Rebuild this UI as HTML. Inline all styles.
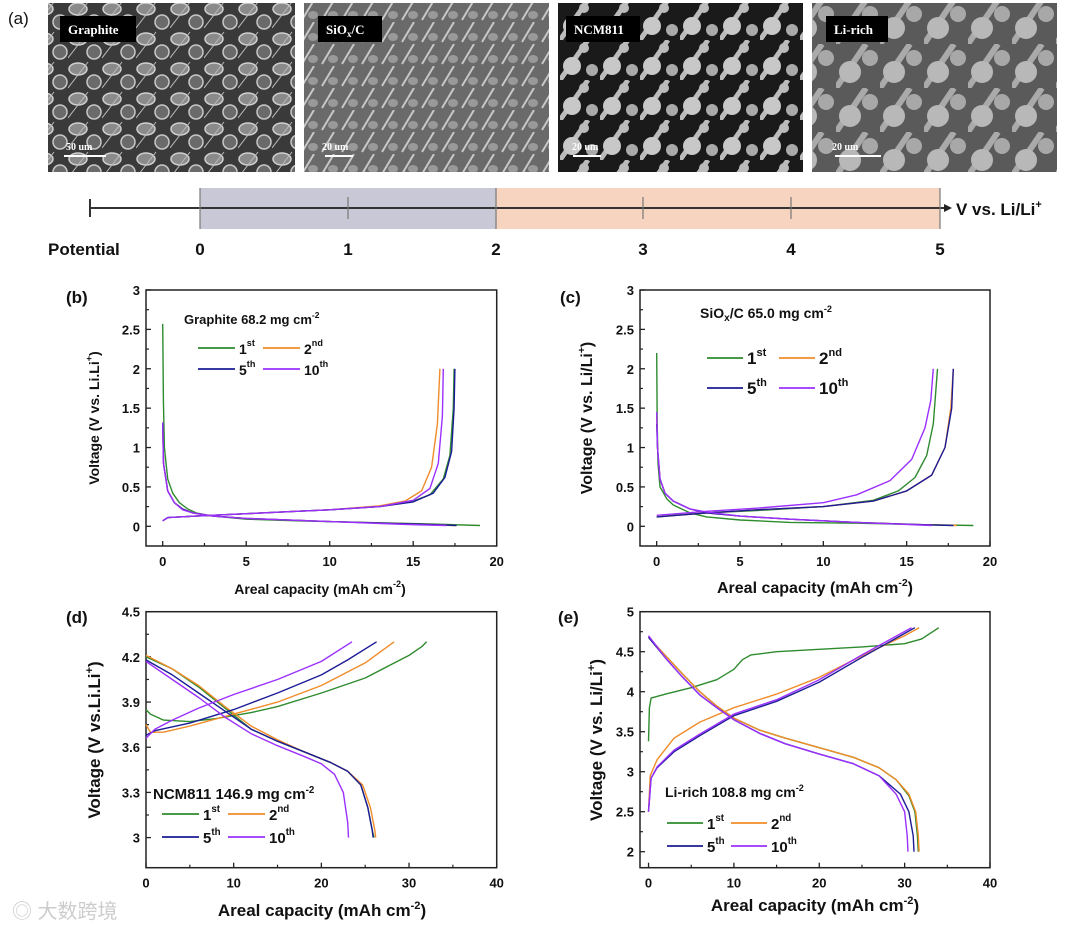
<!DOCTYPE html>
<html><head><meta charset="utf-8">
<style>
html,body{margin:0;padding:0;background:#fff;}
svg{display:block;font-family:"Liberation Sans","Noto Sans CJK SC",sans-serif;}
.t{font-weight:bold;fill:#111;}
</style></head>
<body>
<svg id="fig" width="1080" height="929" viewBox="0 0 1080 929" xmlns="http://www.w3.org/2000/svg">
<defs>
 <pattern id="pg" width="34" height="30" patternUnits="userSpaceOnUse">
  <rect width="34" height="30" fill="#3a3a3a"/>
  <ellipse cx="10" cy="9" rx="9" ry="6" fill="#8a8a8a" stroke="#d0d0d0" stroke-width="1.5"/>
  <ellipse cx="26" cy="22" rx="7" ry="7" fill="#6a6a6a" stroke="#c8c8c8" stroke-width="1.5"/>
  <path d="M0 28 L20 2" stroke="#bbb" stroke-width="1"/>
 </pattern>
 <pattern id="ps" width="20" height="22" patternUnits="userSpaceOnUse">
  <rect width="20" height="22" fill="#6a6a6a"/>
  <path d="M2 20 L14 0" stroke="#c8c8c8" stroke-width="2"/>
  <ellipse cx="13" cy="15" rx="5" ry="4" fill="#999"/>
 </pattern>
 <pattern id="pn" width="40" height="40" patternUnits="userSpaceOnUse">
  <rect width="40" height="40" fill="#1a1a1a"/>
  <path d="M0 40 L28 0" stroke="#bbb" stroke-width="5"/>
  <circle cx="12" cy="26" r="9" fill="#c8c8c8"/>
  <circle cx="32" cy="30" r="6" fill="#aaa"/>
  <circle cx="24" cy="8" r="5" fill="#bbb"/>
 </pattern>
 <pattern id="pl" width="44" height="44" patternUnits="userSpaceOnUse">
  <rect width="44" height="44" fill="#5a5a5a"/>
  <path d="M0 44 L30 0" stroke="#aaa" stroke-width="6"/>
  <circle cx="14" cy="28" r="11" fill="#b8b8b8"/>
  <circle cx="34" cy="14" r="8" fill="#a8a8a8"/>
 </pattern>
</defs>

<text x="8" y="24" font-size="17" class="t" style="font-weight:normal">(a)</text>

<g>
 <rect x="48" y="3" width="247" height="169" fill="url(#pg)"/>
 <rect x="60" y="16" width="76" height="26" fill="#000"/>
 <text x="68" y="34" font-size="13" fill="#fff" font-weight="bold" font-family="Liberation Serif,serif">Graphite</text>
 <text x="66" y="150" font-size="10" fill="#fff" font-weight="bold" font-family="Liberation Serif,serif">50 um</text>
 <rect x="64" y="155" width="42" height="2" fill="#fff"/>
</g>
<g>
 <rect x="304" y="3" width="245" height="169" fill="url(#ps)"/>
 <rect x="318" y="16" width="64" height="26" fill="#000"/>
 <text x="326" y="34" font-size="13" fill="#fff" font-weight="bold" font-family="Liberation Serif,serif">SiO<tspan font-size="9" dy="3">x</tspan><tspan dy="-3">/C</tspan></text>
 <text x="322" y="150" font-size="10" fill="#fff" font-weight="bold" font-family="Liberation Serif,serif">20 um</text>
 <rect x="325" y="155" width="28" height="2" fill="#fff"/>
</g>
<g>
 <rect x="558" y="3" width="245" height="169" fill="url(#pn)"/>
 <rect x="566" y="16" width="74" height="26" fill="#000"/>
 <text x="574" y="34" font-size="13" fill="#fff" font-weight="bold" font-family="Liberation Serif,serif">NCM811</text>
 <text x="572" y="150" font-size="10" fill="#fff" font-weight="bold" font-family="Liberation Serif,serif">20 um</text>
 <rect x="573" y="155" width="28" height="2" fill="#fff"/>
</g>
<g>
 <rect x="812" y="3" width="245" height="169" fill="url(#pl)"/>
 <rect x="826" y="16" width="62" height="26" fill="#000"/>
 <text x="834" y="34" font-size="13" fill="#fff" font-weight="bold" font-family="Liberation Serif,serif">Li-rich</text>
 <text x="832" y="150" font-size="10" fill="#fff" font-weight="bold" font-family="Liberation Serif,serif">20 um</text>
 <rect x="835" y="155" width="46" height="2" fill="#fff"/>
</g>

<g>
 <rect x="200" y="188" width="296" height="41" fill="#c8c8d6"/>
 <rect x="496" y="188" width="444" height="41" fill="#f7d4bf"/>
 <line x1="90" y1="208" x2="945" y2="208" stroke="#333" stroke-width="2"/>
 <line x1="90" y1="199" x2="90" y2="217" stroke="#333" stroke-width="2"/>
 <polygon points="952,208 944,204 944,212" fill="#222"/>
 <g stroke="#777" stroke-width="1.2">
  <line x1="200" y1="188" x2="200" y2="229"/><line x1="348" y1="197" x2="348" y2="219"/>
  <line x1="496" y1="188" x2="496" y2="229"/><line x1="643" y1="197" x2="643" y2="219"/>
  <line x1="791" y1="197" x2="791" y2="219"/><line x1="940" y1="188" x2="940" y2="229"/>
 </g>
 <text x="956" y="215" font-size="17" class="t">V vs. Li/Li<tspan font-size="11" dy="-7">+</tspan></text>
 <text x="48" y="255" font-size="17" class="t">Potential</text>
 <g font-size="17" class="t" text-anchor="middle">
  <text x="200" y="255">0</text><text x="348" y="255">1</text><text x="496" y="255">2</text>
  <text x="643" y="255">3</text><text x="791" y="255">4</text><text x="940" y="255">5</text>
 </g>
</g>

<text x="12" y="918" font-size="20" fill="#ccc">◎ 大数跨境</text>

<g id="charts"></g>
</svg>
<script>
// ---- data (x = areal capacity mAh cm-2, y = voltage V) ----
const cycles = ["1st","2nd","5th","10th"];
const colors = ["#2e8b2e","#f08c2a","#1c1c96","#9b30ff"];

// Graphite
const gr1Dis = [[0,2.57],[0.04,1.6],[0.1,1.0],[0.3,0.6],[0.6,0.42],[1,0.3],[1.5,0.22],[2,0.17],[3,0.13],[5,0.09],[8,0.07],[12,0.05],[16,0.03],[19,0.01]];
const gr1Chg = [[0,0.07],[0.3,0.11],[2,0.13],[5,0.16],[8,0.19],[10,0.21],[13,0.25],[15,0.32],[16,0.4],[16.8,0.6],[17.2,0.9],[17.4,1.5],[17.45,2]];
const gr2Dis = [[0,1.3],[0.05,0.8],[0.3,0.45],[0.7,0.3],[1.2,0.22],[1.8,0.17],[3,0.13],[5,0.1],[10,0.06],[15,0.03],[17.5,0.01]];
const gr2Chg = [[0,0.07],[0.3,0.11],[2,0.13],[5,0.16],[8,0.19],[10,0.21],[13,0.26],[14.5,0.32],[15.5,0.45],[16.1,0.75],[16.45,1.3],[16.6,2]];
const gr5Dis = [[0,1.3],[0.05,0.8],[0.3,0.45],[0.7,0.3],[1.2,0.22],[1.8,0.17],[3,0.13],[5,0.1],[10,0.06],[15,0.03],[17.6,0.01]];
const gr5Chg = [[0,0.07],[0.3,0.11],[2,0.13],[5,0.16],[8,0.19],[10,0.21],[13,0.25],[15,0.31],[16.2,0.42],[16.9,0.62],[17.3,0.95],[17.45,1.5],[17.5,2]];
const gr10Dis = [[0,1.32],[0.05,0.8],[0.3,0.45],[0.7,0.3],[1.2,0.21],[1.8,0.17],[3,0.13],[5,0.1],[10,0.06],[15,0.02],[17,0.01]];
const gr10Chg = [[0,0.07],[0.3,0.11],[2,0.13],[5,0.16],[8,0.19],[10,0.21],[13,0.25],[15,0.33],[16,0.48],[16.5,0.8],[16.75,1.4],[16.8,2]];

// SiOx/C
const si1Dis = [[0,2.2],[0.03,1.3],[0.08,0.8],[0.2,0.5],[0.6,0.35],[1,0.27],[2,0.17],[3,0.12],[5,0.08],[8,0.05],[12,0.04],[16,0.02],[19,0.01]];
const si1Chg = [[0,0.12],[1,0.14],[3,0.17],[6,0.2],[10,0.25],[13,0.33],[14.5,0.45],[15.5,0.62],[16.2,0.9],[16.6,1.3],[16.85,2]];
const si2Dis = [[0,1.4],[0.05,1.0],[0.2,0.6],[0.5,0.42],[1,0.32],[2,0.22],[3,0.17],[5,0.13],[8,0.09],[12,0.05],[16,0.02],[18,0.01]];
const si2Chg = [[0,0.12],[3,0.17],[6,0.21],[10,0.25],[13,0.32],[15,0.45],[16.5,0.65],[17.3,1.0],[17.65,1.5],[17.8,2]];
const si5Dis = [[0,1.3],[0.05,1.0],[0.2,0.6],[0.5,0.42],[1,0.32],[2,0.22],[3,0.17],[5,0.13],[8,0.09],[12,0.05],[16,0.02],[17.8,0.01]];
const si5Chg = [[0,0.12],[3,0.17],[6,0.21],[10,0.25],[13,0.32],[15,0.45],[16.5,0.65],[17.3,1.0],[17.7,1.5],[17.8,2]];
const si10Dis = [[0,1.45],[0.05,1.0],[0.2,0.6],[0.5,0.42],[1,0.32],[2,0.22],[3,0.18],[5,0.13],[8,0.09],[12,0.05],[16.5,0.01]];
const si10Chg = [[0,0.14],[3,0.19],[6,0.23],[10,0.3],[12,0.4],[14,0.58],[15.3,0.85],[16.1,1.25],[16.45,1.6],[16.6,2]];

// NCM811
const nc1Chg = [[0,3.85],[0.5,3.82],[2,3.78],[5,3.77],[8,3.79],[10,3.81],[12,3.83],[15,3.87],[20,3.96],[25,4.06],[28,4.15],[30,4.21],[31.5,4.27],[32,4.3]];
const nc1Dis = [[0,4.2],[3,4.12],[6,4.0],[9,3.86],[12,3.72],[15,3.64],[18,3.57],[21,3.5],[23,3.44],[24.5,3.35],[25.3,3.2],[25.8,3.05],[26,3]];
const nc2Chg = [[0,3.75],[0.5,3.7],[2,3.7],[5,3.74],[10,3.82],[15,3.9],[20,4.01],[25,4.16],[28.3,4.3]];
const nc2Dis = [[0,4.21],[3,4.12],[6,4.01],[9,3.87],[12,3.74],[15,3.65],[18,3.57],[21,3.5],[23,3.44],[24.7,3.35],[25.6,3.2],[26.1,3.05],[26.2,3]];
const nc5Chg = [[0,3.68],[1,3.71],[5,3.76],[10,3.85],[15,3.96],[20,4.08],[23,4.18],[26.3,4.3]];
const nc5Dis = [[0,4.18],[3,4.08],[6,3.96],[9,3.84],[12,3.72],[15,3.64],[18,3.57],[21,3.5],[23,3.44],[24.5,3.35],[25.3,3.2],[25.8,3.05],[25.9,3]];
const nc10Chg = [[0,3.66],[1,3.72],[3,3.78],[6,3.86],[10,3.95],[15,4.05],[20,4.17],[23.5,4.3]];
const nc10Dis = [[0,4.17],[3,4.05],[6,3.93],[9,3.8],[12,3.69],[15,3.61],[18,3.54],[20,3.49],[21.5,3.42],[22.5,3.3],[23,3.1],[23.1,3]];

// Li-rich
const lr1Chg = [[0,3.38],[0.1,3.8],[0.3,3.92],[2,3.97],[5,4.05],[8,4.15],[10,4.28],[11,4.4],[12,4.46],[15,4.5],[20,4.53],[25,4.56],[30,4.6],[32,4.66],[34,4.8]];
const lr1Dis = [[0,4.68],[2,4.45],[4,4.22],[6,4.0],[8,3.82],[10,3.67],[13,3.52],[16,3.42],[20,3.3],[24,3.18],[27,3.05],[29,2.9],[30.5,2.7],[31.2,2.5],[31.5,2.2],[31.6,2]];
const lr2Chg = [[0,2.5],[0.2,2.95],[1,3.15],[3,3.42],[6,3.62],[10,3.8],[15,3.97],[20,4.18],[25,4.45],[30,4.7],[31.7,4.8]];
const lr2Dis = [[0,4.68],[2,4.45],[4,4.22],[6,4.0],[8,3.82],[10,3.67],[13,3.52],[16,3.42],[20,3.3],[24,3.18],[27,3.05],[29,2.9],[30.5,2.72],[31.3,2.5],[31.6,2.2],[31.7,2]];
const lr5Chg = [[0,2.5],[0.3,2.92],[1,3.05],[3,3.25],[6,3.45],[10,3.7],[15,3.88],[20,4.12],[25,4.43],[31.2,4.8]];
const lr5Dis = [[0,4.68],[2,4.42],[4,4.18],[6,3.96],[8,3.8],[10,3.65],[13,3.48],[16,3.35],[20,3.22],[24,3.1],[27,2.95],[29.5,2.72],[30.5,2.5],[31,2.2],[31.1,2]];
const lr10Chg = [[0,2.5],[0.3,2.92],[1,3.06],[3,3.27],[6,3.47],[10,3.72],[15,3.9],[20,4.15],[25,4.46],[30.8,4.8]];
const lr10Dis = [[0,4.7],[2,4.42],[4,4.18],[6,3.96],[8,3.8],[10,3.65],[13,3.48],[16,3.35],[20,3.22],[24,3.1],[27,2.95],[29,2.72],[30,2.5],[30.3,2.2],[30.4,2]];

// axis ticks
const xTicksAnode = [0,5,10,15,20];
const yTicksAnode = [0,0.5,1,1.5,2,2.5,3];
const yLabelsAnode = ["0","0.5","1","1.5","2","2.5","3"];
const xTicksCathode = [0,10,20,30,40];
const yTicksNcm = [3,3.3,3.6,3.9,4.2,4.5];
const yLabelsNcm = ["3","3.3","3.6","3.9","4.2","4.5"];
const yTicksLr = [2,2.5,3,3.5,4,4.5,5];
const yLabelsLr = ["2","2.5","3","3.5","4","4.5","5"];

const NS = "http://www.w3.org/2000/svg";
const root = document.getElementById("charts");
function mk(tag, attrs, parent){ const e=document.createElementNS(NS,tag); for(const k in attrs) e.setAttribute(k,attrs[k]); (parent||root).appendChild(e); return e; }

function panel(cfg){
  const g = mk("g",{});
  
  
  const sx = v => cfg.L + (v-cfg.x0)/(cfg.x1-cfg.x0)*(cfg.R-cfg.L);
  const sy = v => cfg.B - (v-cfg.y0)/(cfg.y1-cfg.y0)*(cfg.B-cfg.T);
  const frame = mk("rect",{x:cfg.L,y:cfg.T,width:cfg.R-cfg.L,height:cfg.B-cfg.T,fill:"none",stroke:"#222","stroke-width":1.5},g);
  
  
  cfg.xt.forEach((v,i)=>{
    const x=sx(v);
    mk("line",{x1:x,y1:cfg.B,x2:x,y2:cfg.B-5,stroke:"#222","stroke-width":1.3},g);
    if(i<cfg.xt.length-1){ const xm=sx(v+(cfg.xt[1]-cfg.xt[0])/2); mk("line",{x1:xm,y1:cfg.B,x2:xm,y2:cfg.B-3,stroke:"#222","stroke-width":1.2},g);}
    const t=mk("text",{x:x,y:cfg.B+20,"font-size":cfg.tf,"text-anchor":"middle",class:"t"},g); t.textContent=v;
    
    
  });
  cfg.yt.forEach((v,i)=>{
    const y=sy(v);
    mk("line",{x1:cfg.L,y1:y,x2:cfg.L+5,y2:y,stroke:"#222","stroke-width":1.3},g);
    if(i<cfg.yt.length-1){ const ym=sy(v+(cfg.yt[1]-cfg.yt[0])/2); mk("line",{x1:cfg.L,y1:ym,x2:cfg.L+3,y2:ym,stroke:"#222","stroke-width":1.2},g);}
    const t=mk("text",{x:cfg.L-6,y:y+5,"font-size":cfg.tf,"text-anchor":"end",class:"t"},g); t.textContent=cfg.yl[i];
    
    
  });
  cfg.series.forEach((s,i)=>{
    s.forEach(curve=>{
      const d=curve.map((p,j)=>(j?"L":"M")+sx(p[0]).toFixed(1)+" "+sy(p[1]).toFixed(1)).join(" ");
      const p=mk("path",{d:d,fill:"none",stroke:colors[i],"stroke-width":1.4,"stroke-linejoin":"round"},g);
      
      
    });
  });
  const xt=mk("text",{x:cfg.xtx,y:cfg.xty,"font-size":cfg.af,"text-anchor":"middle",class:"t"},g);
  xt.innerHTML='Areal capacity (mAh cm<tspan font-size="'+(cfg.af*0.65)+'" dy="-7">-2</tspan><tspan dy="7">)</tspan>';
  
  
  const yt=mk("text",{x:0,y:0,"font-size":cfg.af,"text-anchor":"middle",class:"t",transform:"translate("+cfg.ytx+","+cfg.yty+") rotate(-90)"},g);
  yt.innerHTML=cfg.ytitle+'<tspan font-size="'+(cfg.af*0.65)+'" dy="-7">+</tspan><tspan dy="7">)</tspan>';
  
  
  const pl=mk("text",{x:cfg.plx,y:cfg.ply,"font-size":17,class:"t"},g); pl.textContent=cfg.plabel;
  
  
  const tt=mk("text",{x:cfg.ttx,y:cfg.tty,"font-size":cfg.ttf,class:"t"},g);
  tt.innerHTML=cfg.ttitle+'<tspan font-size="'+(cfg.ttf*0.65)+'" dy="-6">-2</tspan>';
  
  
  const sups=["st","nd","th","th"], nums=["1","2","5","10"];
  cfg.leg.forEach((pos,i)=>{
    const le=mk("g",{},g);
    
    
    mk("line",{x1:pos[0],y1:pos[1],x2:pos[0]+cfg.ll,y2:pos[1],stroke:colors[i],"stroke-width":1.8},le);
    const t=mk("text",{x:pos[0]+cfg.ll+4,y:pos[1]+6,"font-size":cfg.lf,class:"t"},le);
    t.innerHTML=nums[i]+'<tspan font-size="'+(cfg.lf*0.65)+'" dy="-8">'+sups[i]+'</tspan>';
  });
}

panel({name:"chart-graphite",L:146,R:496.7,T:290,B:546,x0:-1,x1:20,y0:-0.25,y1:3,
  xt:xTicksAnode,yt:yTicksAnode,yl:yLabelsAnode,tf:13,af:14,
  series:[[gr1Dis,gr1Chg],[gr2Dis,gr2Chg],[gr5Dis,gr5Chg],[gr10Dis,gr10Chg]],
  xtx:320,xty:594,ytx:99,yty:418,ytitle:"Voltage (V vs. Li.Li",plx:66,ply:303,plabel:"(b)",
  ttx:184,tty:324,ttf:13,ttitle:"Graphite 68.2 mg cm",
  leg:[[198,348],[263,348],[198,369],[263,369]],ll:37,lf:14});
panel({name:"chart-siox-c",L:640,R:990,T:290,B:546,x0:-1,x1:20,y0:-0.25,y1:3,
  xt:xTicksAnode,yt:yTicksAnode,yl:yLabelsAnode,tf:13,af:16,
  series:[[si1Dis,si1Chg],[si2Dis,si2Chg],[si5Dis,si5Chg],[si10Dis,si10Chg]],
  xtx:815,xty:593,ytx:592,yty:418,ytitle:"Voltage (V vs. Li/Li",plx:560,ply:303,plabel:"(c)",
  ttx:700,tty:318,ttf:14,ttitle:"SiO<tspan font-size='10' dy='3'>x</tspan><tspan dy='-3'>/C 65.0 mg cm</tspan>",
  leg:[[707,358],[779,358],[707,388],[779,388]],ll:36,lf:17});
panel({name:"chart-ncm811",L:146,R:496.7,T:611.7,B:867.7,x0:0,x1:40,y0:2.8,y1:4.5,
  xt:xTicksCathode,yt:yTicksNcm,yl:yLabelsNcm,tf:13,af:17,
  series:[[nc1Chg,nc1Dis],[nc2Chg,nc2Dis],[nc5Chg,nc5Dis],[nc10Chg,nc10Dis]],
  xtx:322,xty:916,ytx:100,yty:740,ytitle:"Voltage (V vs.Li.Li",plx:66,ply:623,plabel:"(d)",
  ttx:153,tty:799,ttf:15,ttitle:"NCM811 146.9 mg cm",
  leg:[[162,814],[228,814],[162,837],[228,837]],ll:37,lf:15});
panel({name:"chart-li-rich",L:640,R:990,T:611.7,B:867.7,x0:-1,x1:40,y0:1.8,y1:5,
  xt:xTicksCathode,yt:yTicksLr,yl:yLabelsLr,tf:13,af:17,
  series:[[lr1Chg,lr1Dis],[lr2Chg,lr2Dis],[lr5Chg,lr5Dis],[lr10Chg,lr10Dis]],
  xtx:815,xty:911,ytx:602,yty:740,ytitle:"Voltage (V vs. Li/Li",plx:558,ply:623,plabel:"(e)",
  ttx:665,tty:797,ttf:14,ttitle:"Li-rich 108.8 mg cm",
  leg:[[667,823],[731,823],[667,846],[731,846]],ll:36,lf:15});
</script>
</body></html>
